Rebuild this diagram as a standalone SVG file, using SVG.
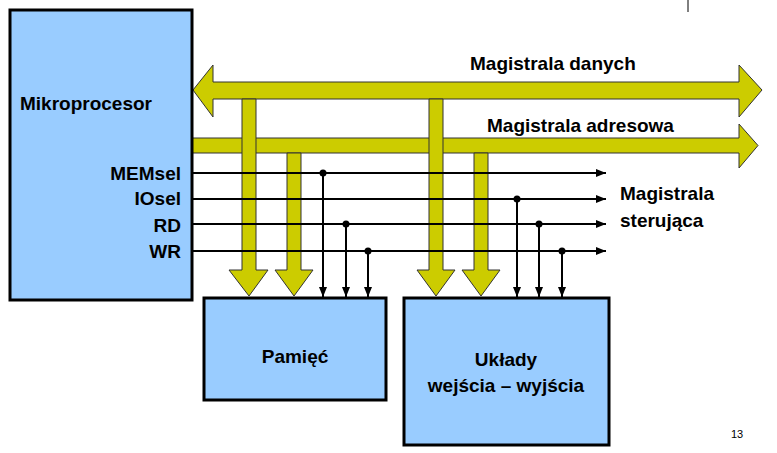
<svg xmlns="http://www.w3.org/2000/svg" width="777" height="453" viewBox="0 0 777 453">
<defs>
<style>
.box{fill:#99ccff;stroke:#000;stroke-width:3}
.bus{fill:#cccc00;stroke:#333;stroke-width:1}
.ln{stroke:#000;stroke-width:2;fill:none}
text{font-family:"Liberation Sans",Arial,sans-serif;font-weight:bold;fill:#000}
.t{font-size:19px}
</style>
<marker id="ah" viewBox="0 0 10 10" refX="10" refY="5" markerWidth="10" markerHeight="10" markerUnits="userSpaceOnUse" orient="auto"><path d="M0,1 L10,5 L0,9 Z" fill="#000"/></marker>
</defs>
<line x1="688" y1="0" x2="688" y2="12" stroke="#000" stroke-width="1"/>
<g id="connectors">
<polygon class="bus" points="193,90 213,65 213,82 739,82 739,65 762,90 739,117 739,99 213,99 213,117"/>
<polygon class="bus" points="192,138 739,138 739,124 758,145.5 739,168 739,153 192,153"/>
<polygon class="bus" points="242,99 256,99 256,270 268,270 249,296 229,270 242,270"/>
<polygon class="bus" points="429,99 443,99 443,270 455,270 436,296 417,270 429,270"/>
<polygon class="bus" points="287,153 301,153 301,270 313,270 294,296 275,270 287,270"/>
<polygon class="bus" points="474,153 488,153 488,270 500,270 481,296 462,270 474,270"/>
<g class="ln" marker-end="url(#ah)">
<line x1="192" y1="173" x2="606" y2="173"/>
<line x1="192" y1="199" x2="606" y2="199"/>
<line x1="192" y1="224" x2="606" y2="224"/>
<line x1="192" y1="251" x2="606" y2="251"/>
<line x1="323" y1="173" x2="323" y2="297"/>
<line x1="346" y1="224" x2="346" y2="297"/>
<line x1="368" y1="251" x2="368" y2="297"/>
<line x1="517" y1="199" x2="517" y2="297"/>
<line x1="539" y1="224" x2="539" y2="297"/>
<line x1="562" y1="251" x2="562" y2="297"/>
</g>
<g fill="#000">
<circle cx="323" cy="173" r="3.5"/><circle cx="346" cy="224" r="3.5"/><circle cx="368" cy="251" r="3.5"/>
<circle cx="517" cy="199" r="3.5"/><circle cx="539" cy="224" r="3.5"/><circle cx="562" cy="251" r="3.5"/>
</g>
</g>
<g id="mikroprocesor">
<rect class="box" x="10" y="10" width="182" height="290"/>
<text class="t" x="20" y="110">Mikroprocesor</text>
<g text-anchor="end" class="t"><text x="181" y="180">MEMsel</text><text x="181" y="205">IOsel</text><text x="181" y="232">RD</text><text x="181" y="258">WR</text></g>
</g>
<g id="pamiec">
<rect class="box" x="204" y="298" width="182" height="102"/>
<text class="t" x="295" y="363" text-anchor="middle">Pamięć</text>
</g>
<g id="uklady">
<rect class="box" x="404" y="298" width="205" height="147"/>
<text class="t" x="506" y="366" text-anchor="middle">Układy</text>
<text class="t" x="506" y="392" text-anchor="middle">wejścia – wyjścia</text>
</g>
<g id="labels" class="t">
<text x="470" y="70">Magistrala danych</text>
<text x="487" y="132">Magistrala adresowa</text>
<text x="620" y="200">Magistrala</text>
<text x="620" y="227">sterująca</text>
</g>
<text x="731" y="438" style="font-size:11px;font-weight:normal">13</text>
</svg>
